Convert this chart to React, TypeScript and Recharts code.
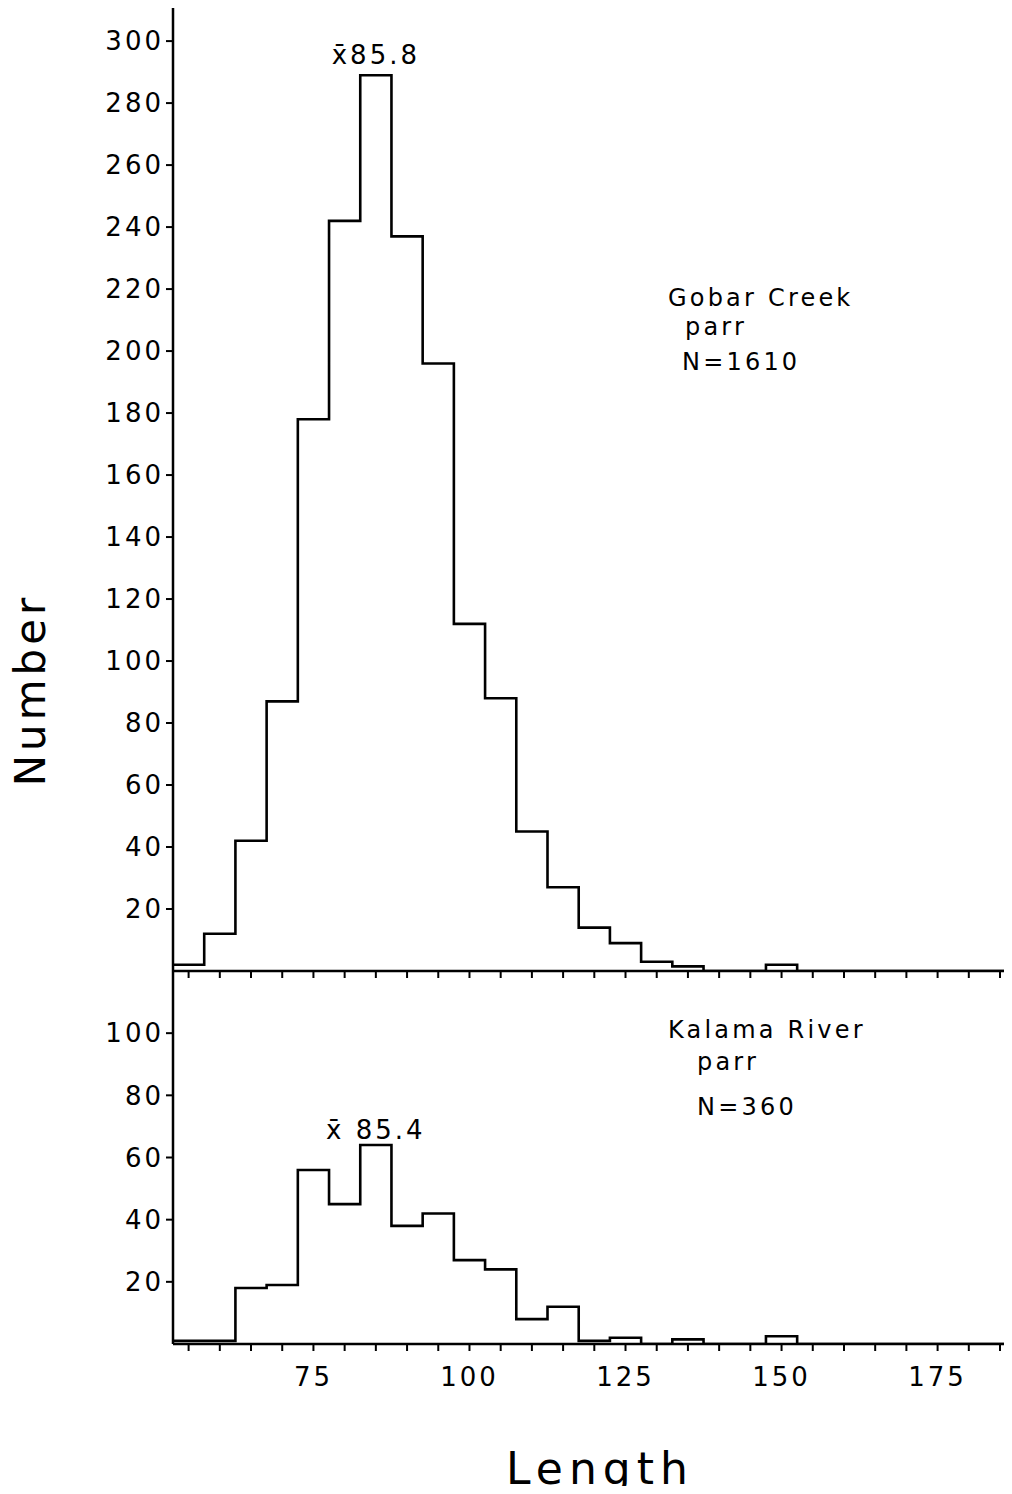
import { Line, LineChart, ReferenceDot, XAxis, YAxis } from "recharts";

// fork length classes (mm), 5 mm bins, labelled by mid-point
const binMids = [
  55, 60, 65, 70, 75, 80, 85, 90, 95, 100, 105, 110, 115, 120, 125, 130, 135,
  140, 145, 150, 155, 160, 165, 170, 175, 180, 185,
];
const gobarCounts = [
  2, 12, 42, 87, 178, 242, 289, 237, 196, 112, 88, 45, 27, 14, 9, 3, 1.5, 0, 0,
  2, 0, 0, 0, 0, 0, 0, 0,
];
const kalamaCounts = [
  1, 1, 18, 19, 56, 45, 64, 38, 42, 27, 24, 8, 12, 1, 2, 0, 1.5, 0, 0, 2.5, 0,
  0, 0, 0, 0, 0, 0,
];
const gobarTicks = [20, 40, 60, 80, 100, 120, 140, 160, 180, 200, 220, 240, 260, 280, 300];
const kalamaTicks = [20, 40, 60, 80, 100];
const lengthLabels = [75, 100, 125, 150, 175];

const BIN = 5;
const X_DOMAIN: [number, number] = [52.5, 186.6];
const FONT = "DejaVu Sans";
const INK = "#000";

// stepAfter line wants one point per bin edge, closed with a zero at the end
function toSteps(counts: number[]) {
  const rows = binMids.map((m, i) => ({ x: m - BIN / 2, n: counts[i] }));
  rows.push({ x: binMids[binMids.length - 1] + BIN / 2, n: 0 });
  return rows;
}

const tickFont = { fill: INK, fontSize: 26, fontFamily: FONT, letterSpacing: 3 };
const axisLine = { stroke: INK, strokeWidth: 2.5 };
const tickLine = { stroke: INK, strokeWidth: 2 };
const meanFont = { fill: INK, fontSize: 26, fontFamily: FONT, letterSpacing: 3 };

export default function App() {
  const top = toSteps(gobarCounts);
  const bottom = toSteps(kalamaCounts);

  return (
    <div
      style={{
        position: "relative",
        width: 1012,
        height: 1494,
        margin: -8,
        background: "#fff",
        overflow: "hidden",
      }}
    >
      <div style={{ position: "absolute", left: 0, top: 0 }}>
        <LineChart
          width={1012}
          height={980}
          data={top}
          margin={{ top: 7, right: 2, left: 0, bottom: 0 }}
        >
          <XAxis
            dataKey="x"
            type="number"
            domain={X_DOMAIN}
            ticks={binMids}
            interval={0}
            height={9}
            tickSize={7}
            axisLine={axisLine}
            tickLine={tickLine}
            tickFormatter={() => ""}
            allowDataOverflow
          />
          <YAxis
            type="number"
            domain={[0, 311]}
            ticks={gobarTicks}
            interval={0}
            width={173}
            tickSize={7}
            tickMargin={2}
            axisLine={axisLine}
            tickLine={tickLine}
            tick={tickFont}
            allowDataOverflow
          />
          <Line
            dataKey="n"
            type="stepAfter"
            stroke={INK}
            strokeWidth={2.6}
            dot={false}
            isAnimationActive={false}
          />
          <ReferenceDot
            x={85}
            y={289}
            r={0}
            label={{ value: "x\u030485.8", position: "top", offset: 11, ...meanFont }}
          />
        </LineChart>
      </div>

      <div style={{ position: "absolute", left: 0, top: 960 }}>
        <LineChart
          width={1012}
          height={434}
          data={bottom}
          margin={{ top: 11, right: 2, left: 0, bottom: 0 }}
        >
          <XAxis
            dataKey="x"
            type="number"
            domain={X_DOMAIN}
            ticks={binMids}
            interval={0}
            height={50}
            tickSize={7}
            tickMargin={17}
            axisLine={axisLine}
            tickLine={tickLine}
            tick={tickFont}
            tickFormatter={(v: number) =>
              lengthLabels.includes(v) ? String(v) : ""
            }
            allowDataOverflow
          />
          <YAxis
            type="number"
            domain={[0, 120]}
            ticks={kalamaTicks}
            interval={0}
            width={173}
            tickSize={7}
            tickMargin={2}
            axisLine={axisLine}
            tickLine={tickLine}
            tick={tickFont}
            allowDataOverflow
          />
          <Line
            dataKey="n"
            type="stepAfter"
            stroke={INK}
            strokeWidth={2.6}
            dot={false}
            isAnimationActive={false}
          />
          <ReferenceDot
            x={85}
            y={64}
            r={0}
            label={{ value: "x\u0304 85.4", position: "top", offset: 6, ...meanFont }}
          />
        </LineChart>
      </div>

      <svg
        width={1012}
        height={1494}
        style={{ position: "absolute", left: 0, top: 0, pointerEvents: "none" }}
        fontFamily={FONT}
        fill={INK}
      >
        <g fontSize={24} letterSpacing={3.2}>
          <text x={668} y={306}>Gobar Creek</text>
          <text x={685} y={335}>parr</text>
          <text x={682} y={370}>N=1610</text>
          <text x={668} y={1038}>Kalama River</text>
          <text x={697} y={1070}>parr</text>
          <text x={697} y={1115}>N=360</text>
        </g>
        <text
          x={30}
          y={690}
          fontSize={42}
          letterSpacing={4}
          textAnchor="middle"
          dominantBaseline="central"
          transform="rotate(-90 30 690)"
        >
          Number
        </text>
        <text
          x={600}
          y={1468}
          fontSize={44}
          letterSpacing={6}
          textAnchor="middle"
          dominantBaseline="central"
        >
          Length
        </text>
      </svg>
    </div>
  );
}
